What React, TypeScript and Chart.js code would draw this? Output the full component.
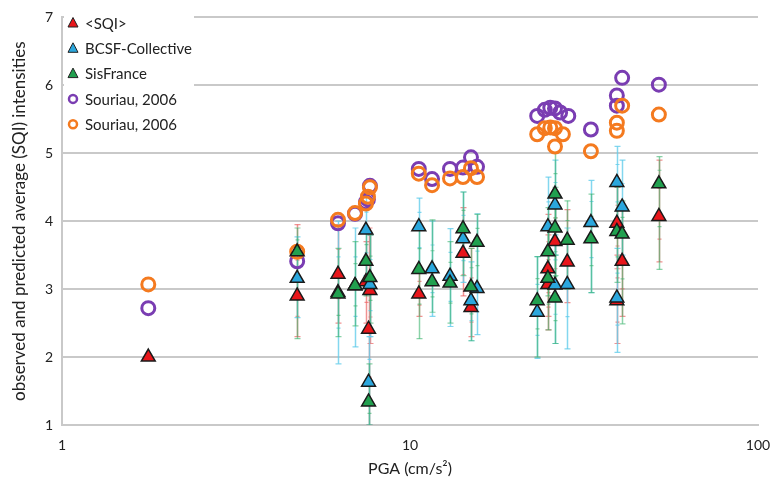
import { useEffect, useRef } from "react";
import { Chart, registerables } from "chart.js";

Chart.register(...registerables);

// Rows: [PGA (cm/s²), intensity, lower bound, upper bound]
const sqiObserved: number[][] = [
  [1.77, 2.0, NaN, NaN],
  [4.74, 2.9, 2.3, 3.95],
  [6.21, 3.22, 2.5, 3.95],
  [7.47, 3.11, 2.5, 3.7],
  [7.67, 2.98, 2.2, 3.8],
  [7.6, 2.41, 1.0, 3.9],
  [10.6, 2.93, 2.6, 3.3],
  [14.2, 3.53, 2.9, 4.2],
  [14.97, 2.73, 2.3, 3.6],
  [24.9, 3.3, 2.6, 4.1],
  [24.9, 3.07, 2.4, 3.8],
  [26.1, 3.7, 2.9, 4.4],
  [28.3, 3.4, 2.8, 4.17],
  [39.3, 3.97, 3.3, 4.5],
  [39.3, 2.83, 2.2, 3.5],
  [40.7, 3.41, 2.6, 4.2],
  [51.9, 4.07, 3.4, 4.9],
];

const bcsfCollective: number[][] = [
  [4.74, 3.16, 2.58, 3.77],
  [6.21, 2.95, 1.9, 4.0],
  [6.95, 3.05, 2.15, 3.9],
  [7.47, 3.87, 3.2, 4.4],
  [7.67, 3.07, 2.3, 3.8],
  [7.6, 1.63, 1.0, 2.3],
  [10.6, 3.92, 3.3, 4.34],
  [11.57, 3.3, 2.6, 4.0],
  [13.03, 3.19, 2.45, 3.89],
  [14.2, 3.74, 3.1, 4.43],
  [14.97, 2.83, 2.24, 3.4],
  [15.58, 3.01, 2.33, 4.11],
  [23.2, 2.66, 1.98, 3.48],
  [24.9, 3.92, 3.2, 4.65],
  [26.1, 4.24, 3.5, 4.9],
  [26.1, 3.06, 2.2, 3.8],
  [28.3, 3.07, 2.12, 3.9],
  [33.1, 3.98, 2.95, 4.6],
  [39.3, 4.57, 4.0, 5.1],
  [39.3, 2.87, 2.07, 3.6],
  [40.7, 4.21, 3.5, 4.9],
];

const sisFrance: number[][] = [
  [4.74, 3.55, 2.27, 3.9],
  [6.21, 2.93, 2.3, 3.6],
  [6.95, 3.05, 2.46, 3.7],
  [7.47, 3.41, 2.9, 3.9],
  [7.67, 3.17, 2.5, 3.8],
  [7.6, 1.34, 1.0, 1.9],
  [10.6, 3.29, 2.27, 3.9],
  [11.57, 3.11, 2.66, 4.02],
  [13.03, 3.09, 2.5, 3.7],
  [14.2, 3.89, 3.2, 4.43],
  [14.97, 3.03, 2.24, 3.6],
  [15.58, 3.69, 3.0, 4.1],
  [23.2, 2.83, 2.0, 3.48],
  [24.9, 3.55, 2.9, 4.2],
  [24.9, 3.16, 2.4, 3.9],
  [26.1, 4.4, 3.7, 5.0],
  [26.1, 3.9, 3.2, 4.5],
  [26.1, 2.87, 2.2, 3.5],
  [28.3, 3.72, 3.0, 4.3],
  [33.1, 3.74, 2.95, 4.4],
  [39.3, 3.85, 3.1, 4.5],
  [40.7, 3.81, 2.49, 4.3],
  [51.9, 4.55, 3.29, 4.95],
];

// Souriau (2006) predictions: [PGA (cm/s²), intensity]
const souriauPurple: number[][] = [
  [1.77, 2.72], [4.74, 3.41], [6.21, 3.97], [6.95, 4.11],
  [7.47, 4.28], [7.57, 4.32], [7.67, 4.52],
  [10.6, 4.77], [11.57, 4.62], [13.03, 4.77], [14.2, 4.79],
  [14.97, 4.94], [15.58, 4.8],
  [23.2, 5.55], [24.4, 5.64], [25.3, 5.67], [26.1, 5.66],
  [27.0, 5.6], [28.5, 5.55], [33.1, 5.35],
  [39.3, 5.85], [39.3, 5.7], [40.7, 6.11], [51.9, 6.01],
];

const souriauOrange: number[][] = [
  [1.77, 3.07], [4.74, 3.55], [6.21, 4.02], [6.95, 4.12],
  [7.47, 4.26], [7.57, 4.36], [7.67, 4.5],
  [10.6, 4.7], [11.57, 4.53], [13.03, 4.63], [14.2, 4.65],
  [14.97, 4.78], [15.58, 4.65],
  [23.2, 5.28], [24.4, 5.37], [25.3, 5.38], [26.1, 5.37],
  [26.1, 5.1], [27.5, 5.28], [33.1, 5.03],
  [39.3, 5.45], [39.3, 5.33], [40.7, 5.7], [51.9, 5.57],
];

const xTickValues = [1, 10, 100];
const yTickValues = [1, 2, 3, 4, 5, 6, 7];

const RED = "#e8161b";
const BLUE = "#2ba7dd";
const GREEN = "#21a04f";
const PURPLE = "#7a3db2";
const ORANGE = "#f47a1f";
const FONT = "Lato";

const legendEntries = [
  { label: "<SQI>", shape: "triangle", color: RED },
  { label: "BCSF-Collective", shape: "triangle", color: BLUE },
  { label: "SisFrance", shape: "triangle", color: GREEN },
  { label: "Souriau, 2006", shape: "circle", color: PURPLE },
  { label: "Souriau, 2006", shape: "circle", color: ORANGE },
];

const toPoints = (rows: number[][]) => rows.map((r) => ({ x: r[0], y: r[1] }));

// vertical uncertainty bars with caps, drawn underneath the markers
const errorBarPlugin = {
  id: "errorBars",
  beforeDatasetsDraw(chart: any) {
    const { ctx, scales } = chart;
    const xs = scales.x;
    const ys = scales.y;
    ctx.save();
    ctx.beginPath();
    ctx.rect(chart.chartArea.left, chart.chartArea.top, chart.chartArea.width, chart.chartArea.height);
    ctx.clip();
    chart.data.datasets.forEach((ds: any) => {
      if (!ds.bounds) return;
      ctx.strokeStyle = ds.barColor;
      ds.bounds.forEach((r: number[]) => {
        const [pga, v, lo, hi] = r;
        if (isNaN(lo)) return;
        const px = Math.round(xs.getPixelForValue(pga)) + 0.5;
        const yl = ys.getPixelForValue(lo);
        const yh = ys.getPixelForValue(hi);
        ctx.lineWidth = 1.5;
        ctx.beginPath();
        ctx.moveTo(px, yl);
        ctx.lineTo(px, yh);
        ctx.stroke();
        ctx.lineWidth = 1.2;
        [lo, hi, (lo + v) / 2, (hi + v) / 2].forEach((t, k) => {
          const yt = ys.getPixelForValue(t);
          const half = k < 2 ? 3 : 2;
          ctx.beginPath();
          ctx.moveTo(px - half, yt);
          ctx.lineTo(px + half, yt);
          ctx.stroke();
        });
      });
    });
    ctx.restore();
  },
};

// boxed legend in the upper-left corner of the plot
const legendPlugin = {
  id: "cornerLegend",
  afterDraw(chart: any) {
    const { ctx, chartArea } = chart;
    const left = chartArea.left;
    ctx.save();
    ctx.fillStyle = "#ffffff";
    ctx.fillRect(left + 2, 0, 130, 140);
    ctx.font = `15px ${FONT}`;
    ctx.textBaseline = "middle";
    legendEntries.forEach((e, i) => {
      const cy = 23 + i * 25.3;
      const mx = left + 11;
      if (e.shape === "triangle") {
        ctx.beginPath();
        ctx.moveTo(mx, cy - 5.5);
        ctx.lineTo(mx + 5, cy + 4);
        ctx.lineTo(mx - 5, cy + 4);
        ctx.closePath();
        ctx.fillStyle = e.color;
        ctx.fill();
        ctx.strokeStyle = "#222";
        ctx.lineWidth = 1;
        ctx.stroke();
      } else {
        ctx.beginPath();
        ctx.arc(mx, cy, 4, 0, Math.PI * 2);
        ctx.strokeStyle = e.color;
        ctx.lineWidth = 2.5;
        ctx.stroke();
      }
      ctx.fillStyle = "#222";
      ctx.fillText(e.label, left + 23, cy + 1);
    });
    ctx.restore();
  },
};

const triangleDataset = (label: string, rows: number[][], color: string, bar: string, order: number) => ({
  label,
  data: toPoints(rows),
  bounds: rows,
  barColor: bar,
  pointStyle: "triangle",
  pointRadius: 8,
  pointBackgroundColor: color,
  pointBorderColor: "#1a1a1a",
  pointBorderWidth: 1.5,
  showLine: false,
  order,
});

const ringDataset = (label: string, rows: number[][], color: string, order: number) => ({
  label,
  data: toPoints(rows),
  pointStyle: "circle",
  pointRadius: 6.5,
  pointBackgroundColor: "rgba(0,0,0,0)",
  pointBorderColor: color,
  pointBorderWidth: 3,
  showLine: false,
  order,
});

export default function App() {
  const canvasRef = useRef<HTMLCanvasElement>(null);

  useEffect(() => {
    const chart = new Chart(canvasRef.current as HTMLCanvasElement, {
      type: "scatter",
      data: {
        datasets: [
          triangleDataset("<SQI>", sqiObserved, RED, "rgba(235,100,100,0.7)", 3),
          triangleDataset("BCSF-Collective", bcsfCollective, BLUE, "rgba(100,205,235,0.8)", 2),
          triangleDataset("SisFrance", sisFrance, GREEN, "rgba(60,180,110,0.6)", 1),
          ringDataset("Souriau, 2006", souriauPurple, PURPLE, 5),
          ringDataset("Souriau, 2006", souriauOrange, ORANGE, 4),
        ] as any,
      },
      options: {
        animation: false,
        responsive: true,
        maintainAspectRatio: false,
        layout: { padding: { top: 15, right: 23, left: 0, bottom: 0 } },
        plugins: {
          legend: { display: false },
          tooltip: { enabled: false },
        },
        scales: {
          x: {
            type: "logarithmic",
            min: 1,
            max: 100,
            afterBuildTicks: (scale: any) => {
              scale.ticks = xTickValues.map((v) => ({ value: v }));
            },
            afterFit: (scale: any) => {
              scale.height = 53;
            },
            ticks: {
              callback: (v: any) => String(v),
              color: "#222",
              font: { family: FONT, size: 14 },
              padding: 4,
              maxRotation: 0,
            },
            grid: { display: false },
            border: { display: true, color: "#c9c9c9", width: 2 },
            title: {
              display: true,
              text: "PGA (cm/s²)",
              color: "#222",
              font: { family: FONT, size: 16 },
              padding: { top: 1, bottom: 0 },
            },
          },
          y: {
            type: "linear",
            min: 1,
            max: 7,
            afterBuildTicks: (scale: any) => {
              scale.ticks = yTickValues.map((v) => ({ value: v }));
            },
            afterFit: (scale: any) => {
              scale.width = 62;
            },
            ticks: {
              color: "#222",
              font: { family: FONT, size: 14 },
              padding: 9,
            },
            grid: { color: "#c9c9c9", lineWidth: 2, drawTicks: false },
            border: { display: true, color: "#c9c9c9", width: 2 },
            title: {
              display: true,
              text: "observed and predicted average (SQI) intensities",
              color: "#222",
              font: { family: FONT, size: 17 },
              padding: { top: 9, bottom: 0 },
            },
          },
        },
      } as any,
      plugins: [errorBarPlugin, legendPlugin],
    });
    return () => chart.destroy();
  }, []);

  return (
    <div style={{ position: "fixed", left: 0, top: 0, width: 781, height: 478, background: "#fff" }}>
      <canvas ref={canvasRef} />
    </div>
  );
}
